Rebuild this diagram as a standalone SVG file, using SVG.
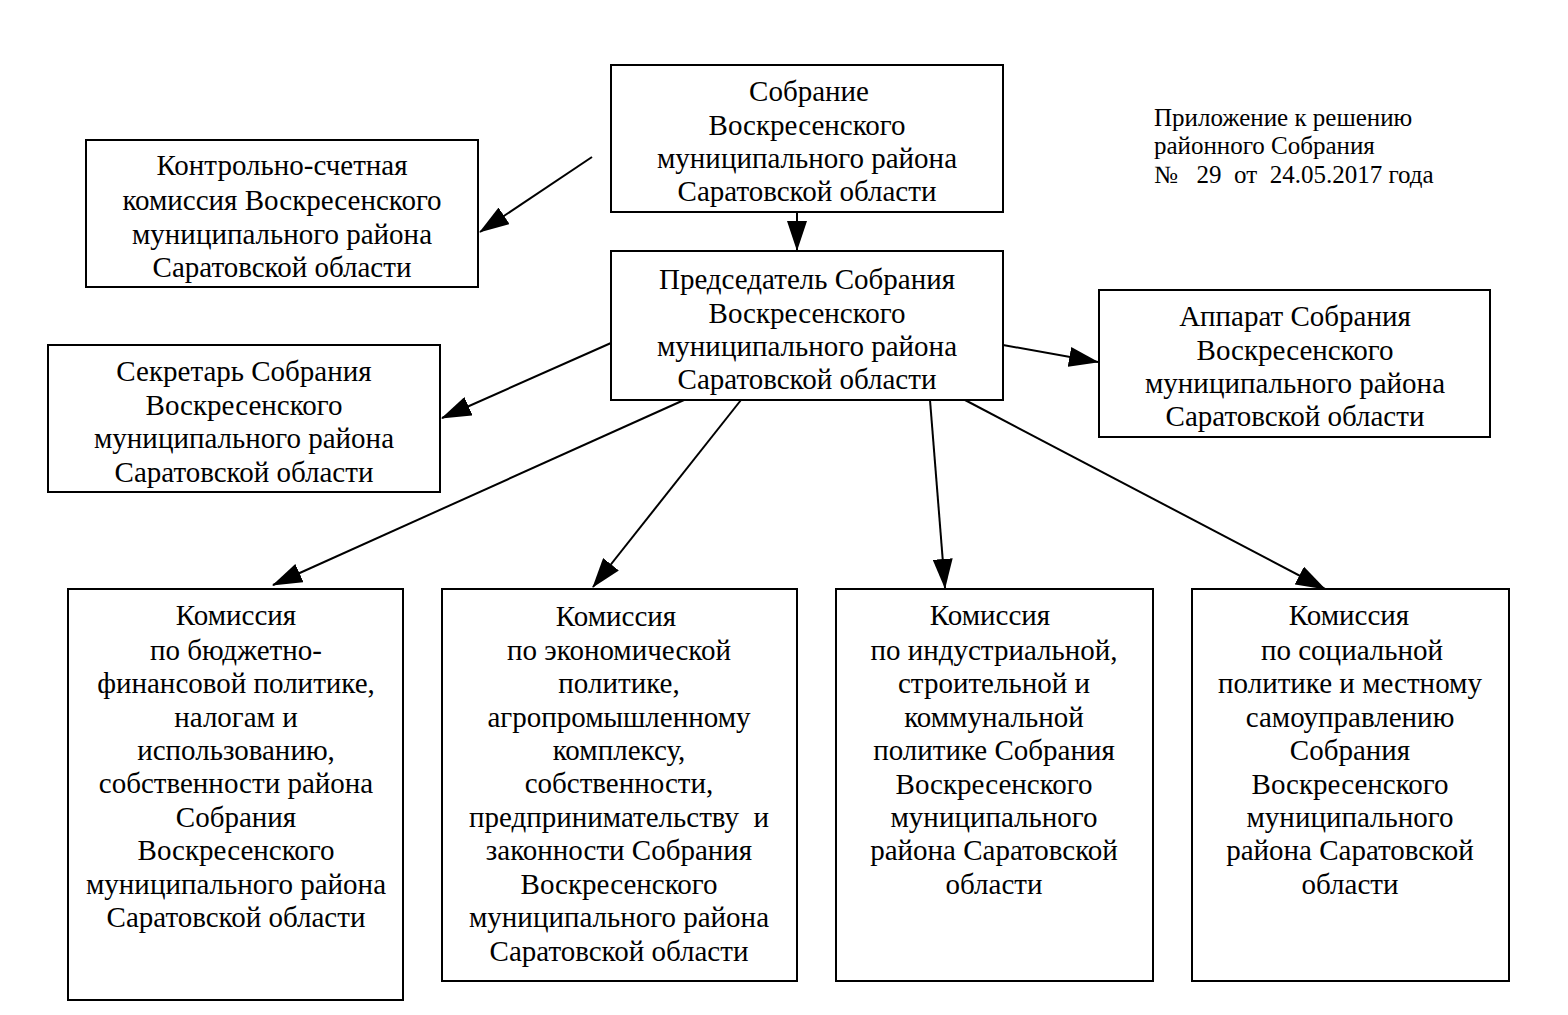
<svg xmlns="http://www.w3.org/2000/svg" width="1568" height="1015" viewBox="0 0 1568 1015">
<style>
.box{fill:#fff;stroke:#000;stroke-width:2}
.t{font-family:"Liberation Serif","Times New Roman","DejaVu Serif",serif;font-size:29px;fill:#000;text-anchor:middle}
.n{font-family:"Liberation Serif","Times New Roman","DejaVu Serif",serif;font-size:25px;fill:#000}
.c{stroke:#000;stroke-width:2;fill:none;marker-end:url(#ah)}
</style>
<defs>
<marker id="ah" viewBox="0 0 30 20" refX="29" refY="10" markerWidth="30" markerHeight="20" markerUnits="userSpaceOnUse" orient="auto">
<path d="M0,0 L30,10 L0,20 z" fill="#000"/>
</marker>
</defs>
<rect width="1568" height="1015" fill="#fff"/>
<g id="connectors">
<line class="c" x1="797" y1="212" x2="797" y2="250"/>
<line class="c" x1="592" y1="157" x2="480" y2="232"/>
<line class="c" x1="611" y1="343" x2="442" y2="418"/>
<line class="c" x1="1003" y1="345" x2="1098" y2="362"/>
<line class="c" x1="684" y1="400" x2="273" y2="585"/>
<line class="c" x1="741" y1="400" x2="593" y2="587"/>
<line class="c" x1="930" y1="400" x2="945" y2="588"/>
<line class="c" x1="965" y1="400" x2="1325" y2="589"/>
</g>
<g id="sobranie">
<rect class="box" x="611" y="65" width="392" height="147"/>
<text class="t"><tspan x="809" y="101">Собрание</tspan><tspan x="807" y="135">Воскресенского</tspan><tspan x="807" y="168">муниципального района</tspan><tspan x="807" y="201">Саратовской области</tspan></text>
</g>
<g id="kontrol">
<rect class="box" x="86" y="140" width="392" height="147"/>
<text class="t"><tspan x="282" y="175">Контрольно-счетная</tspan><tspan x="282" y="210">комиссия Воскресенского</tspan><tspan x="282" y="244">муниципального района</tspan><tspan x="282" y="277">Саратовской области</tspan></text>
</g>
<g id="predsedatel">
<rect class="box" x="611" y="251" width="392" height="149"/>
<text class="t"><tspan x="807" y="289">Председатель Собрания</tspan><tspan x="807" y="323">Воскресенского</tspan><tspan x="807" y="356">муниципального района</tspan><tspan x="807" y="389">Саратовской области</tspan></text>
</g>
<g id="sekretar">
<rect class="box" x="48" y="345" width="392" height="147"/>
<text class="t"><tspan x="244" y="381">Секретарь Собрания</tspan><tspan x="244" y="415">Воскресенского</tspan><tspan x="244" y="448">муниципального района</tspan><tspan x="244" y="482">Саратовской области</tspan></text>
</g>
<g id="apparat">
<rect class="box" x="1099" y="290" width="391" height="147"/>
<text class="t"><tspan x="1295" y="326">Аппарат Собрания</tspan><tspan x="1295" y="360">Воскресенского</tspan><tspan x="1295" y="393">муниципального района</tspan><tspan x="1295" y="426">Саратовской области</tspan></text>
</g>
<g id="komissia1">
<rect class="box" x="68" y="589" width="335" height="411"/>
<text class="t"><tspan x="236" y="625">Комиссия</tspan><tspan x="236" y="660">по бюджетно-</tspan><tspan x="236" y="693">финансовой политике,</tspan><tspan x="236" y="727">налогам и</tspan><tspan x="236" y="760">использованию,</tspan><tspan x="236" y="793">собственности района</tspan><tspan x="236" y="827">Собрания</tspan><tspan x="236" y="860">Воскресенского</tspan><tspan x="236" y="894">муниципального района</tspan><tspan x="236" y="927">Саратовской области</tspan></text>
</g>
<g id="komissia2">
<rect class="box" x="442" y="589" width="355" height="392"/>
<text class="t"><tspan x="616" y="626">Комиссия</tspan><tspan x="619" y="660">по экономической</tspan><tspan x="619" y="693">политике,</tspan><tspan x="619" y="727">агропромышленному</tspan><tspan x="619" y="760">комплексу,</tspan><tspan x="619" y="793">собственности,</tspan><tspan x="619" y="827" xml:space="preserve">предпринимательству  и</tspan><tspan x="619" y="860">законности Собрания</tspan><tspan x="619" y="894">Воскресенского</tspan><tspan x="619" y="927">муниципального района</tspan><tspan x="619" y="961">Саратовской области</tspan></text>
</g>
<g id="komissia3">
<rect class="box" x="836" y="589" width="317" height="392"/>
<text class="t"><tspan x="990" y="625">Комиссия</tspan><tspan x="994" y="660">по индустриальной,</tspan><tspan x="994" y="693">строительной и</tspan><tspan x="994" y="727">коммунальной</tspan><tspan x="994" y="760">политике Собрания</tspan><tspan x="994" y="794">Воскресенского</tspan><tspan x="994" y="827">муниципального</tspan><tspan x="994" y="860">района Саратовской</tspan><tspan x="994" y="894">области</tspan></text>
</g>
<g id="komissia4">
<rect class="box" x="1192" y="589" width="317" height="392"/>
<text class="t"><tspan x="1349" y="625">Комиссия</tspan><tspan x="1352" y="660">по социальной</tspan><tspan x="1350" y="693">политике и местному</tspan><tspan x="1350" y="727">самоуправлению</tspan><tspan x="1350" y="760">Собрания</tspan><tspan x="1350" y="794">Воскресенского</tspan><tspan x="1350" y="827">муниципального</tspan><tspan x="1350" y="860">района Саратовской</tspan><tspan x="1350" y="894">области</tspan></text>
</g>
<g id="note">
<text class="n"><tspan x="1154" y="126">Приложение к решению</tspan><tspan x="1154" y="154">районного Собрания</tspan><tspan x="1154" y="183" xml:space="preserve">№   29  от  24.05.2017 года</tspan></text>
</g>
</svg>
